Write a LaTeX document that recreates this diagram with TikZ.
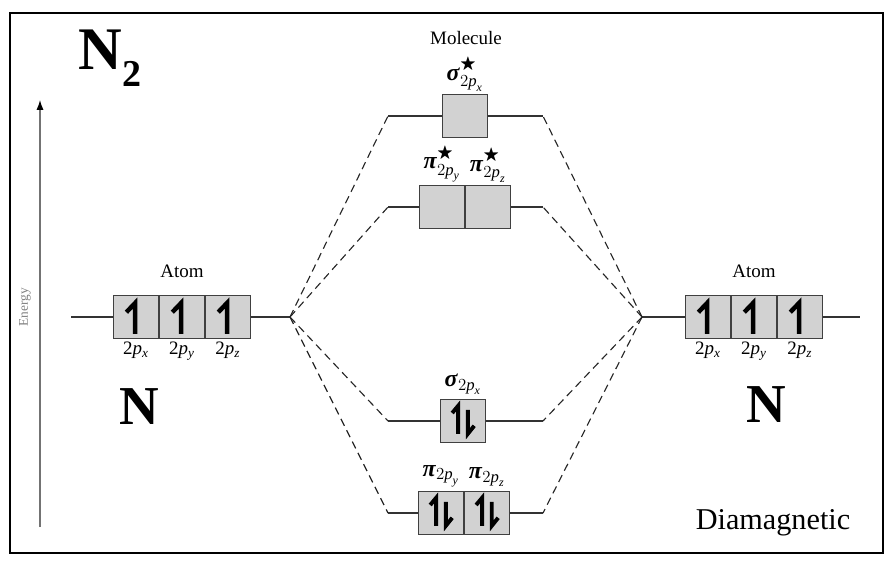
\documentclass[tikz,border=0pt]{standalone}
\usepackage{amsmath, amssymb}
\usepackage{fontspec}
\setmainfont{Liberation Serif}
\usepackage{tikz}
\usetikzlibrary{arrows.meta, positioning}

\newcommand{\orbp}[1]{2\textit{p}$_{\textit{#1}}$}

\begin{document}
\begin{tikzpicture}[x=0.025cm, y=-0.025cm,
orbital/.style={rectangle, draw=black!75, fill=gray!35, line width=0.8pt, minimum width=1.12cm, minimum height=1.06cm, inner sep=0pt},
level/.style={draw=black!80, line width=0.8pt},
link/.style={draw=black!85, line width=0.8pt, dash pattern=on 5.5pt off 3.5pt},
spin/.style={line width=3.2pt, line cap=butt, line join=miter},
lab/.style={font=\fontsize{13.5}{15}\selectfont, inner sep=1pt},
mo/.style={font=\fontsize{17}{18}\selectfont, inner sep=1pt}
]
\useasboundingbox (0,0) rectangle (894,566);
\draw[line width=1.8pt] (10,13) rectangle (883,553);

% energy axis
\coordinate (e0) at (40,527);
\coordinate (e1) at (40,100);
\draw[black!55, line width=0.8pt, -{Latex[length=7pt, width=5pt, black]}] (e0) -- (e1);
\node[rotate=90, font=\fontsize{9.5}{10}\selectfont, text=black!50] (energy) at (25,307) {Energy};

\node[font=\fontsize{43}{45}\selectfont\bfseries] (mol) at (110,58) {N\raisebox{-0.28em}{\fontsize{27}{28}\selectfont 2}};
\node[font=\fontsize{39}{41}\selectfont\bfseries] (nl) at (139,407) {N};
\node[font=\fontsize{39}{41}\selectfont\bfseries] (nr) at (766,405) {N};
\node[font=\fontsize{21.5}{23}\selectfont] (dia) at (773,523) {Diamagnetic};

% left atom
\node[orbital] (la1) at (136,317) {};
\node[orbital, right=0pt of la1] (la2) {};
\node[orbital, right=0pt of la2] (la3) {};
\node[lab, above=11pt of la2] (lat) {Atom};
\node[lab, below=1pt of la1] {\orbp{x}};
\node[lab, below=1pt of la2] {\orbp{y}};
\node[lab, below=1pt of la3] {\orbp{z}};
\coordinate (l0) at (71,317);
\coordinate (lv) at (290,317);
\draw[level] (l0) -- (la1.west);
\draw[level] (la3.east) -- (lv);

% right atom
\node[orbital] (ra1) at (708,317) {};
\node[orbital, right=0pt of ra1] (ra2) {};
\node[orbital, right=0pt of ra2] (ra3) {};
\node[lab, above=11pt of ra2] (rat) {Atom};
\node[lab, below=1pt of ra1] {\orbp{x}};
\node[lab, below=1pt of ra2] {\orbp{y}};
\node[lab, below=1pt of ra3] {\orbp{z}};
\coordinate (rv) at (642,317);
\coordinate (r0) at (860,317);
\draw[level] (rv) -- (ra1.west);
\draw[level] (ra3.east) -- (r0);

% molecule
\node[lab] (molt) at (466,38) {Molecule};

\node[orbital] (ss) at (465,116) {};
\node[mo, above=1pt of ss] {\textbf{\textit{σ}}$^{\bigstar}_{2\textit{p}_{\textit{x}}}$};

\node[orbital] (ps1) at (442,207) {};
\node[orbital, right=0pt of ps1] (ps2) {};
\node[mo, above=1pt of ps1] {\textbf{\textit{π}}$^{\bigstar}_{2\textit{p}_{\textit{y}}}$};
\node[mo, above=1pt of ps2] {\textbf{\textit{π}}$^{\bigstar}_{2\textit{p}_{\textit{z}}}$};

\node[orbital] (sb) at (463,421) {};
\node[mo, above=2pt of sb] {\textbf{\textit{σ}}$_{2\textit{p}_{\textit{x}}}$};

\node[orbital] (pb1) at (441,513) {};
\node[orbital, right=0pt of pb1] (pb2) {};
\node[mo, above=2pt of pb1] {\textbf{\textit{π}}$_{2\textit{p}_{\textit{y}}}$};
\node[mo, above=2pt of pb2] {\textbf{\textit{π}}$_{2\textit{p}_{\textit{z}}}$};

\coordinate (k1) at (388,116);
\coordinate (k2) at (388,207);
\coordinate (k3) at (388,421);
\coordinate (k4) at (388,513);
\coordinate (m1) at (543,116);
\coordinate (m2) at (543,207);
\coordinate (m3) at (543,421);
\coordinate (m4) at (543,513);

\draw[level] (k1) -- (ss.west);
\draw[level] (ss.east) -- (m1);
\draw[level] (k2) -- (ps1.west);
\draw[level] (ps2.east) -- (m2);
\draw[level] (k3) -- (sb.west);
\draw[level] (sb.east) -- (m3);
\draw[level] (k4) -- (pb1.west);
\draw[level] (pb2.east) -- (m4);

\foreach \k in {k1,k2,k3,k4}
  \draw[link] (lv) -- (\k);
\foreach \m in {m1,m2,m3,m4}
  \draw[link] (rv) -- (\m);

% electrons
\foreach \b in {la1,la2,la3,ra1,ra2,ra3}
  \draw[spin] ([xshift=-0.02cm, yshift=-0.42cm]\b.center) -- ([xshift=-0.02cm, yshift=0.35cm]\b.center) -- ([xshift=-0.24cm, yshift=0.12cm]\b.center);
\foreach \b in {sb,pb1,pb2} {
  \draw[spin, line width=2.8pt] ([xshift=-0.12cm, yshift=-0.32cm]\b.center) -- ([xshift=-0.12cm, yshift=0.38cm]\b.center) -- ([xshift=-0.27cm, yshift=0.2cm]\b.center);
  \draw[spin, line width=2.8pt] ([xshift=0.12cm, yshift=0.28cm]\b.center) -- ([xshift=0.12cm, yshift=-0.32cm]\b.center) -- ([xshift=0.28cm, yshift=-0.12cm]\b.center);
}

\end{tikzpicture}
\end{document}
